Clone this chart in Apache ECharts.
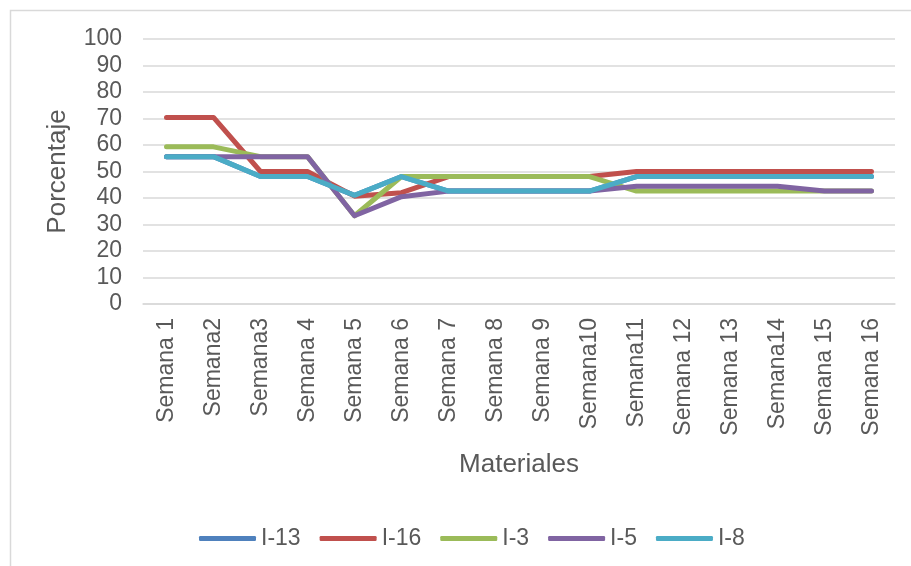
<!DOCTYPE html>
<html>
<head>
<meta charset="utf-8">
<script src="https://cdn.jsdelivr.net/npm/echarts@6/dist/echarts.min.js"></script>
<style>
  html, body { margin: 0; padding: 0; background: #ffffff; }
  #chart { width: 911px; height: 566px; }
</style>
</head>
<body>
<div id="chart"></div>
<script>
// Weekly percentages per material
const categories = ['Semana 1', 'Semana2', 'Semana3', 'Semana 4', 'Semana 5', 'Semana 6', 'Semana 7', 'Semana 8',
  'Semana 9', 'Semana10', 'Semana11', 'Semana 12', 'Semana 13', 'Semana14', 'Semana 15', 'Semana 16'];
const seriesNames = ['I-13', 'I-16', 'I-3', 'I-5', 'I-8'];
const valuesI13 = [55.6, 55.6, 48.1, 48.1, 41.0, 48.1, 42.6, 42.6, 42.6, 42.6, 48.1, 48.1, 48.1, 48.1, 48.1, 48.1];
const valuesI16 = [70.4, 70.4, 50.0, 50.0, 40.7, 42.0, 48.1, 48.1, 48.1, 48.1, 50.0, 50.0, 50.0, 50.0, 50.0, 50.0];
const valuesI3  = [59.3, 59.3, 55.6, 55.6, 33.3, 48.1, 48.1, 48.1, 48.1, 48.1, 42.6, 42.6, 42.6, 42.6, 42.6, 42.6];
const valuesI5  = [55.6, 55.6, 55.6, 55.6, 33.3, 40.5, 42.6, 42.6, 42.6, 42.6, 44.4, 44.4, 44.4, 44.4, 42.6, 42.6];
const valuesI8  = [55.6, 55.6, 48.1, 48.1, 41.0, 48.1, 42.6, 42.6, 42.6, 42.6, 48.1, 48.1, 48.1, 48.1, 48.1, 48.1];
const colors = ['#4F81BD', '#C0504D', '#9BBB59', '#8064A2', '#4BACC6'];

const allValues = [valuesI13, valuesI16, valuesI3, valuesI5, valuesI8];
const textColor = '#595959';
const fontFamily = '"Liberation Sans", Arial, sans-serif';

const chart = echarts.init(document.getElementById('chart'), null, { renderer: 'canvas' });

chart.setOption({
  backgroundColor: '#ffffff',
  animation: false,
  color: colors,
  textStyle: { fontFamily: fontFamily, color: textColor },
  graphic: [{
    type: 'rect',
    shape: { x: 10.5, y: 10.5, width: 920, height: 600 },
    style: { fill: 'none', stroke: '#D9D9D9', lineWidth: 1.5 },
    silent: true
  }],
  grid: { left: 143, right: 16, top: 39, bottom: 262, containLabel: false },
  legend: {
    data: seriesNames,
    orient: 'horizontal',
    top: 522,
    left: 194,
    icon: 'roundRect',
    itemWidth: 57,
    itemHeight: 5,
    itemGap: 19,
    textStyle: { fontSize: 23, color: textColor, fontFamily: fontFamily }
  },
  xAxis: {
    type: 'category',
    data: categories,
    boundaryGap: true,
    name: 'Materiales',
    nameLocation: 'middle',
    nameGap: 148,
    nameTextStyle: { fontSize: 26, color: textColor, fontFamily: fontFamily },
    axisLine: { show: true, lineStyle: { color: '#D9D9D9', width: 1.5 } },
    axisTick: { show: false },
    axisLabel: { rotate: 90, fontSize: 23, color: textColor, margin: 14, fontFamily: fontFamily, interval: 0 },
    splitLine: { show: false }
  },
  yAxis: {
    type: 'value',
    min: 0,
    max: 100,
    interval: 10,
    name: 'Porcentaje',
    nameLocation: 'middle',
    nameGap: 72,
    nameRotate: 90,
    nameTextStyle: { fontSize: 26, color: textColor, fontFamily: fontFamily },
    axisLine: { show: false },
    axisTick: { show: false },
    axisLabel: { fontSize: 23, color: textColor, margin: 21, fontFamily: fontFamily },
    splitLine: { show: true, lineStyle: { color: '#D9D9D9', width: 1.5 } }
  },
  series: seriesNames.map((name, i) => ({
    name: name,
    type: 'line',
    data: allValues[i],
    symbol: 'none',
    showSymbol: false,
    lineStyle: { width: 5, color: colors[i], cap: 'round', join: 'round' },
    itemStyle: { color: colors[i] },
    z: 2 + i
  }))
});
</script>
</body>
</html>
